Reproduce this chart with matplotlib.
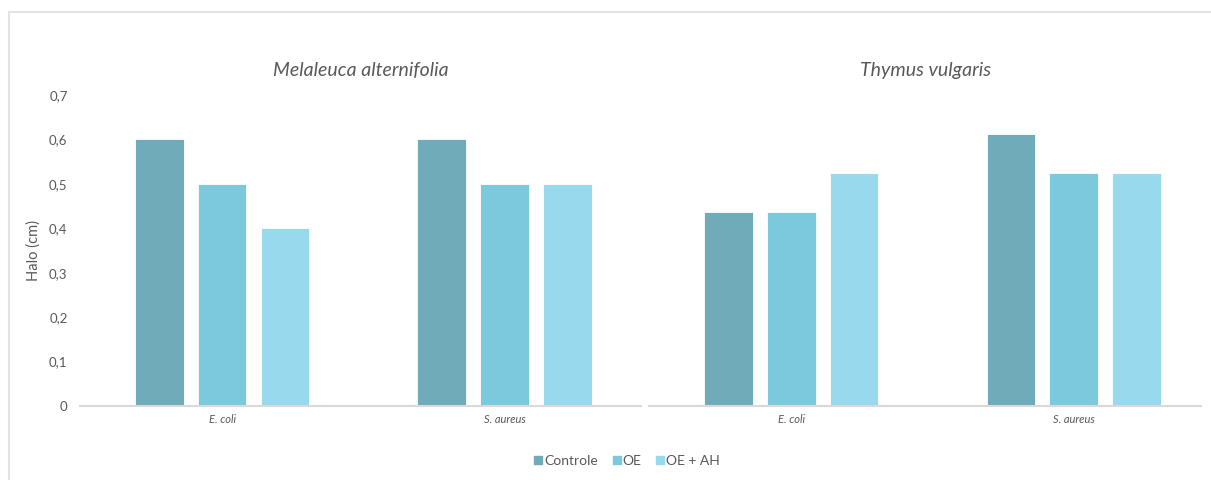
import numpy             as np
import matplotlib.pyplot as plt
from   matplotlib.lines   import Line2D
from   matplotlib.patches import Rectangle
from   matplotlib.ticker  import FuncFormatter


# ---------------------------------------------------------------
# data
# ---------------------------------------------------------------
species    = ["Melaleuca alternifolia", "Thymus vulgaris"]
bacteria   = ["E. coli", "S. aureus"]
treatments = ["Controle", "OE", "OE + AH"]

melaleuca_controle = [0.60, 0.60]
melaleuca_oe       = [0.50, 0.50]
melaleuca_oe_ah    = [0.40, 0.50]

thymus_controle    = [0.4375, 0.6125]
thymus_oe          = [0.4375, 0.525]
thymus_oe_ah       = [0.525,  0.525]

yticks     = [0.0, 0.1, 0.2, 0.3, 0.4, 0.5, 0.6, 0.7]


# ---------------------------------------------------------------
# style
# ---------------------------------------------------------------
plt.rcParams['font.family'] = ['Lato', 'DejaVu Sans']

colors   = ["#6FABB9", "#7AC9DC", "#98D9EE"]
txtcol   = "#595959"
axcol    = "#D9D9D9"
width    = 0.173
offset   = 0.2226

W, H     = 1211, 480
fig      = plt.figure(figsize=(W/100, H/100), dpi=100)

def px_axes(x0, x1, ytop, ybot):
    return fig.add_axes([x0/W, 1 - ybot/H, (x1 - x0)/W, (ybot - ytop)/H])

ax0 = px_axes(80,  641, 95, 406)
ax1 = px_axes(649, 1201, 95, 406)

series = [
    (ax0, [melaleuca_controle, melaleuca_oe, melaleuca_oe_ah], species[0], (-0.502, 1.481)),
    (ax1, [thymus_controle,    thymus_oe,    thymus_oe_ah],    species[1], (-0.502, 1.449)),
]

x = np.arange(len(bacteria))

for ax, vals, title, xlim in series:
    for i, v in enumerate(vals):
        ax.bar(x + (i - 1)*offset, v, width, color=colors[i],
               edgecolor="white", linewidth=0.6, zorder=2)

    ax.set_xlim(*xlim)
    ax.set_ylim(0, 0.7)
    ax.set_xticks(x)
    ax.set_xticklabels(bacteria, style='italic', fontsize=8, color=txtcol)
    ax.tick_params(axis='x', length=0, pad=6)

    for s in ['top', 'right', 'left']:
        ax.spines[s].set_visible(False)
    ax.spines['bottom'].set_color(axcol)
    ax.spines['bottom'].set_linewidth(1.5)

    ax.set_title(title, style='italic', fontsize=14, color=txtcol, pad=14)

ax0.set_yticks(yticks)
ax0.yaxis.set_major_formatter(FuncFormatter(lambda v, p: ("%g" % round(v, 1)).replace('.', ',')))
ax0.tick_params(axis='y', length=0, pad=9, labelsize=9.5, labelcolor=txtcol)
ax0.set_ylabel("Halo (cm)", fontsize=10.5, color=txtcol, labelpad=6)

ax1.set_yticks([])

# legend
handles = [Line2D([], [], marker='s', linestyle='none', markersize=6,
                  markerfacecolor=c, markeredgecolor=c) for c in colors]
fig.legend(handles, treatments, loc='center', ncol=3,
           bbox_to_anchor=(627/W, 1 - 461/H), frameon=False,
           fontsize=10, labelcolor=txtcol, handlelength=0.6,
           handletextpad=0.15, columnspacing=1.0)

# light frame around chart area (runs off the right and bottom edges)
fig.patches.append(Rectangle((9/W, -0.2), 1.2, 1.2 - 11.5/H, transform=fig.transFigure,
                             fill=False, edgecolor="#E3E3E3", linewidth=1.5))

plt.savefig("out.png", dpi=100)
